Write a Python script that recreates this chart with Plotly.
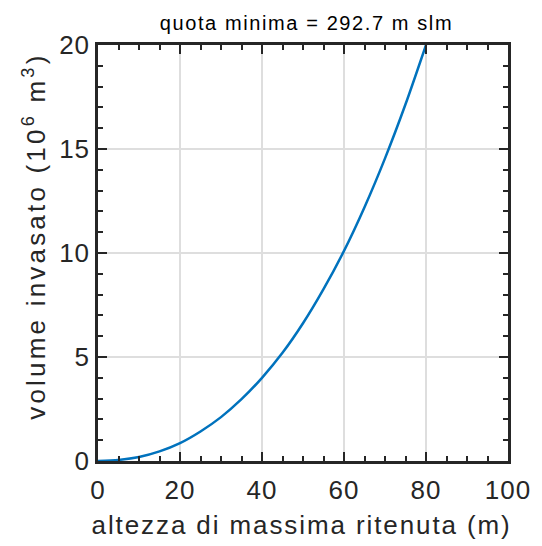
import plotly.graph_objects as go

# altezza di massima ritenuta (m)
altezza = [0, 5, 10, 15, 20, 25, 30, 35, 40, 45, 50, 55, 60, 65, 70, 75, 80]
# volume invasato (10^6 m^3)
volume = [0, 0.05, 0.19, 0.46, 0.86, 1.42, 2.11, 2.97, 4.0, 5.2, 6.62, 8.26, 10.1, 12.2, 14.55, 17.15, 20.0]

x_ticks = [0, 20, 40, 60, 80, 100]
y_ticks = [0, 5, 10, 15, 20]

title_text = "quota minima = 292.7 m slm"
x_title = "altezza di massima ritenuta (m)"
y_title = "volume invasato (10<sup>6</sup> m<sup>3</sup>)"

dark = "#262626"
font_family = "Liberation Sans, Arial, sans-serif"

fig = go.Figure()
fig.add_trace(go.Scatter(
    x=altezza, y=volume, mode="lines",
    line=dict(color="#0072BD", width=2.5, shape="spline", smoothing=0.8),
    showlegend=False, cliponaxis=True,
))

axis_common = dict(
    showline=True, linecolor=dark, linewidth=2.5, mirror="allticks",
    ticks="inside", ticklen=9, tickwidth=2, tickcolor=dark,
    showgrid=True, gridcolor="#dedede", gridwidth=2,
    zeroline=False,
    tickfont=dict(family=font_family, size=26, color=dark),
    minor=dict(ticks="inside", ticklen=5, tickwidth=2, tickcolor=dark, showgrid=False),
)

L, R, T, B = 98, 25, 45, 85
W, H = 542, 546
pw, ph = W - L - R, H - T - B

fig.update_layout(
    width=W, height=H,
    margin=dict(l=L, r=R, t=T, b=B),
    paper_bgcolor="white", plot_bgcolor="white",
    font=dict(family=font_family, color=dark),
    title=dict(text=title_text, x=306.5 / W, xanchor="center",
               y=1 - 23 / H, yanchor="middle",
               font=dict(family=font_family, size=20, color="#000000")),
    xaxis=dict(range=[0, 100], tickvals=x_ticks, ticktext=[str(v) for v in x_ticks],
               ticklabelstandoff=4, **axis_common),
    yaxis=dict(range=[0, 20], tickvals=y_ticks, ticktext=[str(v) for v in y_ticks],
               **axis_common),
    annotations=[
        dict(text=x_title, xref="paper", yref="paper",
             x=(306 - L) / pw, y=(T + ph - 525) / ph, xanchor="center", yanchor="middle",
             showarrow=False, font=dict(family=font_family, size=26, color=dark)),
        dict(text=y_title, xref="paper", yref="paper", textangle=-90,
             x=(33 - L) / pw, y=(T + ph - 236) / ph, xanchor="center", yanchor="middle",
             showarrow=False, font=dict(family=font_family, size=26, color=dark)),
    ],
)
fig.update_xaxes(minor=dict(dtick=5, tick0=0))
fig.update_yaxes(minor=dict(dtick=1, tick0=0))

post = """
function spaceOut(){
  var gd = document.getElementsByClassName('plotly-graph-div')[0];
  gd.querySelectorAll('.gtitle').forEach(function(e){e.style.letterSpacing='1.6px';});
  var ann = gd.querySelectorAll('.annotation-text');
  if (ann[0]) ann[0].style.letterSpacing='1.9px';
  if (ann[1]) ann[1].style.letterSpacing='3.2px';
  gd.querySelectorAll('.xtick text, .ytick text').forEach(function(e){e.style.letterSpacing='1px';});
}
spaceOut();
"""

fig.write_html("out.html", post_script=post)
